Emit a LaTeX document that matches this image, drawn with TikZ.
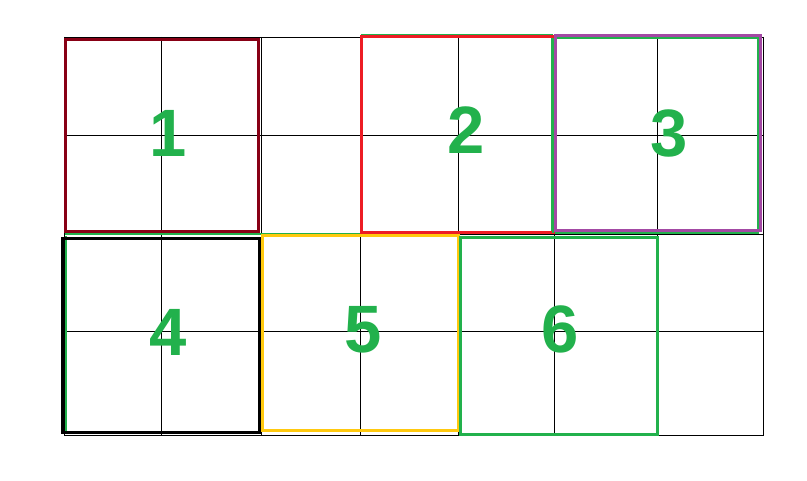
\documentclass[tikz,border=0pt]{standalone}
\usepackage{fontspec}
\setmainfont{Liberation Sans}
\definecolor{pdarkred}{RGB}{136,0,21}
\definecolor{pred}{RGB}{237,28,36}
\definecolor{ppurple}{RGB}{163,73,164}
\definecolor{pgreen}{RGB}{34,177,76}
\definecolor{pyellow}{RGB}{255,201,14}
\tikzset{
  gridline/.style={black, line width=1pt},
  sq/.style={line width=3pt},
  gline/.style={pgreen, line width=2pt},
  num/.style={text=pgreen, font=\fontsize{67}{67}\selectfont\bfseries, inner sep=0pt, anchor=base}
}
\begin{document}
\begin{tikzpicture}[x=1pt,y=-1pt]
\useasboundingbox (0,0) rectangle (807,481);
% grid
\foreach \yy in {38,136,235,332,435.5}
  \draw[gridline] (64,\yy) -- (764,\yy);
\foreach \xx in {64,161,261,360,458,554,657,763}
  \draw[gridline] (\xx,37) -- (\xx,436);
% green underlines
\draw[gline] (65,234) -- (361,234);
\draw[gline] (66,236) -- (66,432);
\draw[gline] (361,35.3) -- (553,35.3);
\draw[gline] (551.5,38.3) rectangle (758.3,232.7);
% coloured squares
\draw[sq, pdarkred] (65.3,39.3) rectangle (258.3,232);
\draw[sq, pred] (361.3,36.7) rectangle (553.3,232.3);
\draw[sq, ppurple] (555.7,36) rectangle (760.7,230.5);
\draw[sq, black, line width=3.5pt] (62.7,238.3) rectangle (259.3,432.3);
\draw[sq, pyellow] (262.3,236) rectangle (458.3,431);
\draw[sq, pgreen] (460.7,237.3) rectangle (657.7,435);
\draw[gline] (553,38.3) -- (553,232.7);
% numbers
\node[num] (n1) at (168,156.7) {1};
\node[num] (n2) at (466,154) {2};
\node[num] (n3) at (669,156.5) {3};
\node[num] (n4) at (168,355.7) {4};
\node[num] (n5) at (363,353) {5};
\node[num] (n6) at (560,352.5) {6};
\end{tikzpicture}
\end{document}
